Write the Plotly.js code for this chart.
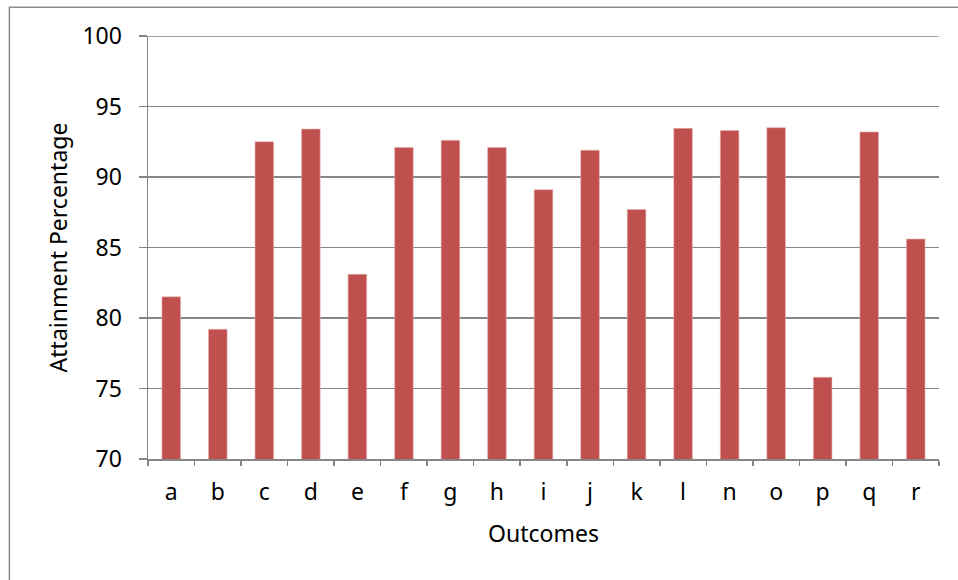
<!DOCTYPE html>
<html>
<head>
<meta charset="utf-8">
<script src="https://cdn.plot.ly/plotly-3.0.1.min.js"></script>
<style>html,body{margin:0;padding:0;background:#fff;}#chart{width:958px;height:580px;}</style>
</head>
<body>
<div id="chart"></div>
<script>
const outcomes = ["a","b","c","d","e","f","g","h","i","j","k","l","n","o","p","q","r"];
const attainment = [81.5, 79.2, 92.5, 93.4, 83.1, 92.1, 92.6, 92.1, 89.1, 91.9, 87.7, 93.45, 93.3, 93.5, 75.8, 93.2, 85.6];
const yTicks = [70, 75, 80, 85, 90, 95, 100];

const FONT = "Noto Sans, Lato, sans-serif";
const FS = 23;
const trace = {
  type: "bar",
  x: outcomes,
  y: attainment,
  marker: {color: "#C0504D", line: {color: "#e3b3b2", width: 0.6}},
  hoverinfo: "x+y"
};

const layout = {
  width: 958, height: 580,
  margin: {l: 148, r: 19, t: 36, b: 121, pad: 0},
  paper_bgcolor: "#ffffff", plot_bgcolor: "#ffffff",
  bargap: 0.6,
  showlegend: false,
  font: {family: FONT, size: FS, color: "#000"},
  xaxis: {
    type: "category",
    showline: true, linecolor: "#868686", linewidth: 1.5,
    ticks: "outside", tickson: "boundaries", ticklen: 5, tickcolor: "#868686", tickwidth: 1.5,
    showgrid: false,
    ticklabelstandoff: 12,
    tickfont: {family: FONT, size: FS, color: "#000"},
    title: {text: "Outcomes", font: {family: FONT, size: FS, color: "#000"}, standoff: 20}
  },
  yaxis: {
    range: [70, 100],
    tickvals: yTicks,
    ticktext: yTicks.map(String),
    showline: true, linecolor: "#868686", linewidth: 1.5,
    ticks: "outside", ticklen: 8, tickcolor: "#868686", tickwidth: 1.5,
    showgrid: true, gridcolor: "#868686", gridwidth: 1.5,
    zeroline: false,
    ticklabelstandoff: 12,
    tickfont: {family: FONT, size: FS, color: "#000"},
    title: {text: "Attainment Percentage", font: {family: FONT, size: FS, color: "#000"}, standoff: 8}
  },
  shapes: [
    {
      type: "rect", xref: "paper", yref: "paper",
      x0: (9 - 147.7) / 791.6, x1: 1.2,
      y0: -0.5, y1: (459.3 - 7) / 423.6,
      line: {color: "#8a8a8a", width: 1.5}, fillcolor: "rgba(0,0,0,0)", layer: "below"
    },
    {
      type: "line", xref: "paper", yref: "y",
      x0: 0, x1: 1, y0: yTicks[yTicks.length - 1], y1: yTicks[yTicks.length - 1],
      line: {color: "#868686", width: 1.5}, layer: "below"
    }
  ]
};

Plotly.newPlot("chart", [trace], layout, {displayModeBar: false, staticPlot: true});
</script>
</body>
</html>
